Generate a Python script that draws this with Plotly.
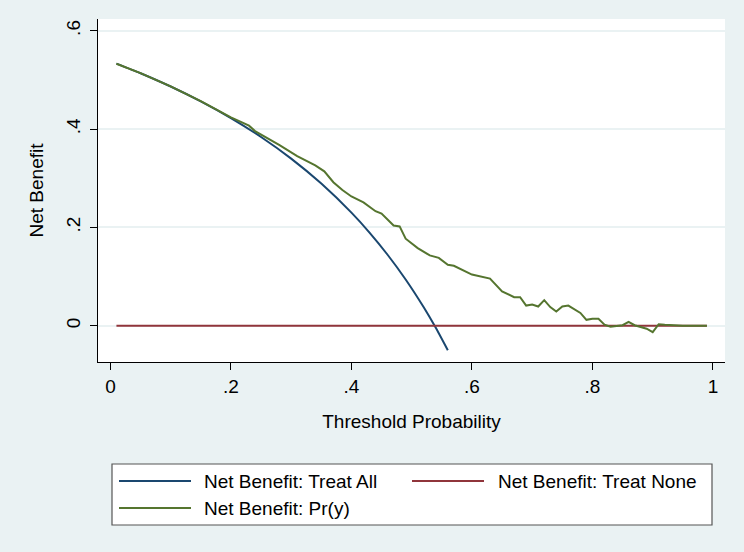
import plotly.graph_objects as go

# ---- data ----
thr_all = [0.01, 0.05, 0.10, 0.15, 0.20, 0.25, 0.30, 0.35, 0.40, 0.43, 0.46, 0.49, 0.52, 0.54, 0.56]
nb_all = [0.5333, 0.5137, 0.4867, 0.4565, 0.4225, 0.384, 0.340, 0.2892, 0.230, 0.1895, 0.1444, 0.0941, 0.0375, -0.0043, -0.050]

thr_none = [0.01, 0.99]
nb_none = [0.0, 0.0]

thr_model = [0.01, 0.05, 0.10, 0.15, 0.20, 0.22, 0.23, 0.24, 0.26, 0.28, 0.31, 0.34, 0.355, 0.37,
             0.385, 0.40, 0.42, 0.44, 0.45, 0.47, 0.48, 0.49, 0.51, 0.53, 0.545, 0.56, 0.57, 0.59,
             0.60, 0.63, 0.65, 0.67, 0.68, 0.69, 0.70, 0.71, 0.72, 0.73, 0.74, 0.75, 0.76, 0.78,
             0.79, 0.80, 0.81, 0.82, 0.83, 0.85, 0.86, 0.87, 0.89, 0.90, 0.91, 0.92, 0.94, 0.95, 0.99]
nb_model = [0.533, 0.514, 0.487, 0.457, 0.424, 0.413, 0.407, 0.396, 0.382, 0.368, 0.345, 0.326, 0.314, 0.292,
            0.276, 0.263, 0.251, 0.233, 0.228, 0.204, 0.202, 0.177, 0.158, 0.143, 0.138, 0.124, 0.122, 0.111,
            0.104, 0.096, 0.070, 0.058, 0.058, 0.041, 0.043, 0.039, 0.052, 0.038, 0.029, 0.039, 0.041, 0.026,
            0.012, 0.014, 0.014, 0.002, -0.002, 0.001, 0.008, 0.001, -0.006, -0.013, 0.003, 0.002, 0.001, 0.0, 0.0]

x_ticks = [0, 0.2, 0.4, 0.6, 0.8, 1.0]
x_tick_labels = ["0", ".2", ".4", ".6", ".8", "1"]
y_ticks = [0, 0.2, 0.4, 0.6]
y_tick_labels = ["0", ".2", ".4", ".6"]

names = ["Net Benefit: Treat All", "Net Benefit: Treat None", "Net Benefit: Pr(y)"]
colors = ["#1a476f", "#90353b", "#55752f"]

BG = "#eaf2f3"
FONT = "Liberation Sans, Arial, sans-serif"

fig = go.Figure()
fig.add_trace(go.Scatter(x=thr_all, y=nb_all, mode="lines", name=names[0],
                         line=dict(color=colors[0], width=2, shape="spline", smoothing=0.6)))
fig.add_trace(go.Scatter(x=thr_none, y=nb_none, mode="lines", name=names[1],
                         line=dict(color=colors[1], width=2)))
fig.add_trace(go.Scatter(x=thr_model, y=nb_model, mode="lines", name=names[2],
                         line=dict(color=colors[2], width=2)))

# plot area in pixels: x 98..725, y 19..362
L, R, T, B = 98, 725, 19, 362
W, H = 744, 552


def px(xp):
    return (xp - L) / (R - L)


def py(yp):
    return (B - yp) / (B - T)


shapes = [
    dict(type="rect", xref="paper", yref="paper", x0=px(112), x1=px(712), y0=py(464), y1=py(525),
         line=dict(color="#555555", width=1.2), fillcolor="white", layer="below"),
]
annotations = []
legend_pos = [(119, 191, 481, 202), (412, 484, 481, 496), (119, 191, 508, 202)]
for (x0, x1, yy, tx), nm, c in zip(legend_pos, names, colors):
    shapes.append(dict(type="line", xref="paper", yref="paper", x0=px(x0), x1=px(x1),
                       y0=py(yy), y1=py(yy), line=dict(color=c, width=2)))
    annotations.append(dict(xref="paper", yref="paper", x=px(tx), y=py(yy), text=nm,
                            showarrow=False, xanchor="left", yanchor="middle",
                            font=dict(size=19, color="black", family=FONT)))

fig.update_layout(
    width=W, height=H,
    margin=dict(l=L, r=W - R, t=T, b=H - B, pad=0),
    paper_bgcolor=BG, plot_bgcolor="white",
    showlegend=False,
    font=dict(family=FONT, size=19, color="black"),
    shapes=shapes, annotations=annotations,
    xaxis=dict(range=[-0.0206, 1.02], tickvals=x_ticks, ticktext=x_tick_labels,
               showgrid=False, zeroline=False, showline=True, linecolor="black", linewidth=1,
               ticks="outside", ticklen=7, tickcolor="black", tickwidth=1,
               title=dict(text="Threshold Probability", standoff=18, font=dict(size=19))),
    yaxis=dict(range=[-0.0738, 0.624], tickvals=y_ticks, ticktext=y_tick_labels,
               showgrid=True, gridcolor=BG, gridwidth=1.5, zeroline=False,
               showline=True, linecolor="black", linewidth=1,
               ticks="outside", ticklen=7, tickcolor="black", tickwidth=1, tickangle=-90,
               ticklabelstandoff=2,
               title=dict(text="Net Benefit", standoff=14, font=dict(size=19))),
)

fig.write_html("out.html", config={"displayModeBar": False},
               post_script="document.body.style.margin='0';")
